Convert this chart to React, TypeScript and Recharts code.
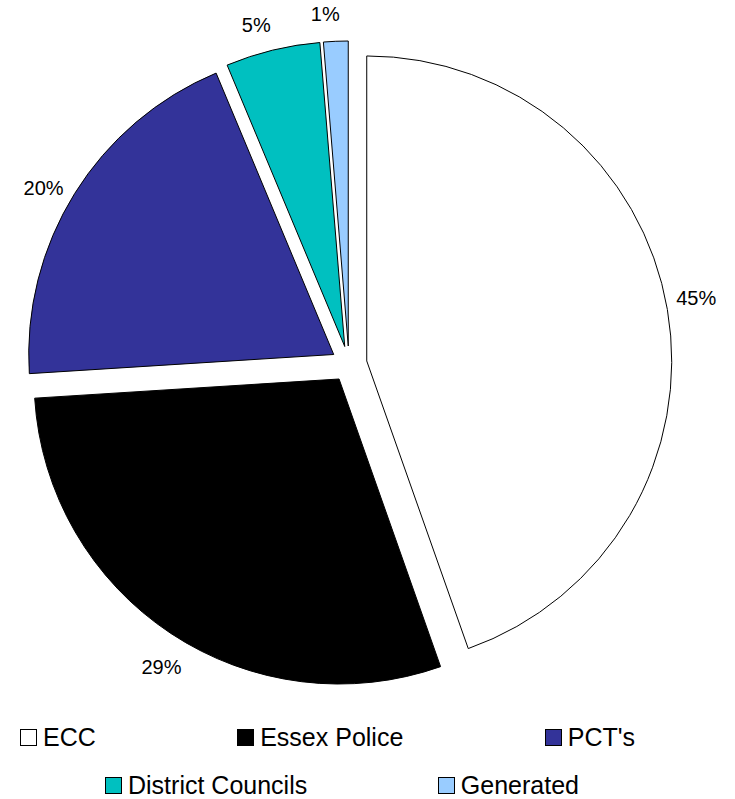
import React from 'react';
import { PieChart, Pie, Cell, Sector, Legend } from 'recharts';

const names = ['ECC', 'Essex Police', "PCT's", 'District Councils', 'Generated'];
const shares = [44.6, 29.4, 19.7, 5.0, 1.3];
const colors = ['#FFFFFF', '#000000', '#333399', '#00C0C0', '#99CCFF'];

const data = names.map((name, i) => ({ name, value: shares[i] }));

const FONT = '"Liberation Sans", Arial, sans-serif';
const RADIAN = Math.PI / 180;
const EXPLODE = 18;

// pull each slice outward along its middle angle
const ExplodedSector = (props: any) => {
    const { cx, cy, midAngle } = props;
    const dx = Math.cos(-midAngle * RADIAN) * EXPLODE;
    const dy = Math.sin(-midAngle * RADIAN) * EXPLODE;
    return <Sector {...props} cx={cx + dx} cy={cy + dy} />;
};

const renderLabel = (props: any) => {
    const { cx, cy, midAngle, outerRadius, percent } = props;
    const r = outerRadius + 49;
    const a = (midAngle + 1.5) * RADIAN;
    const x = cx + r * Math.cos(-a);
    const y = cy + r * Math.sin(-a) + 3;
    return (
        <text x={x} y={y} fill="#000" fontSize={20} fontFamily={FONT} textAnchor="middle" dominantBaseline="central">
            {`${Math.round(percent * 100)}%`}
        </text>
    );
};

const LegendItem = ({ i }: { i: number }) => (
    <span style={{ display: 'inline-flex', alignItems: 'center' }}>
        <span
            style={{
                width: 15,
                height: 15,
                background: colors[i],
                border: '1px solid #000',
                marginRight: 6,
                display: 'inline-block',
            }}
        />
        <span>{names[i]}</span>
    </span>
);

const renderLegend = () => (
    <div style={{ fontFamily: FONT, fontSize: 25, color: '#000', lineHeight: '48px' }}>
        <div style={{ display: 'flex', justifyContent: 'space-between', marginLeft: 20, width: 615 }}>
            {[0, 1, 2].map((i) => <LegendItem key={i} i={i} />)}
        </div>
        <div style={{ display: 'flex', justifyContent: 'space-between', marginLeft: 105, width: 474 }}>
            {[3, 4].map((i) => <LegendItem key={i} i={i} />)}
        </div>
    </div>
);

export default function App() {
    return (
        <div style={{ position: 'absolute', left: 0, top: 0, background: '#fff' }}>
            <PieChart width={735} height={799} margin={{ top: 0, right: 0, bottom: 0, left: 0 }}>
                <Pie
                    data={data}
                    dataKey="value"
                    nameKey="name"
                    cx={349}
                    cy={364}
                    outerRadius={305}
                    startAngle={90}
                    endAngle={-270}
                    stroke="#000"
                    strokeWidth={1}
                    label={renderLabel}
                    labelLine={false}
                    shape={ExplodedSector}
                    isAnimationActive={false}
                >
                    {data.map((d, i) => (
                        <Cell key={d.name} fill={colors[i]} />
                    ))}
                </Pie>
                <Legend
                    content={renderLegend}
                    wrapperStyle={{ left: 0, top: 713, width: 735, bottom: 'auto' }}
                />
            </PieChart>
        </div>
    );
}
